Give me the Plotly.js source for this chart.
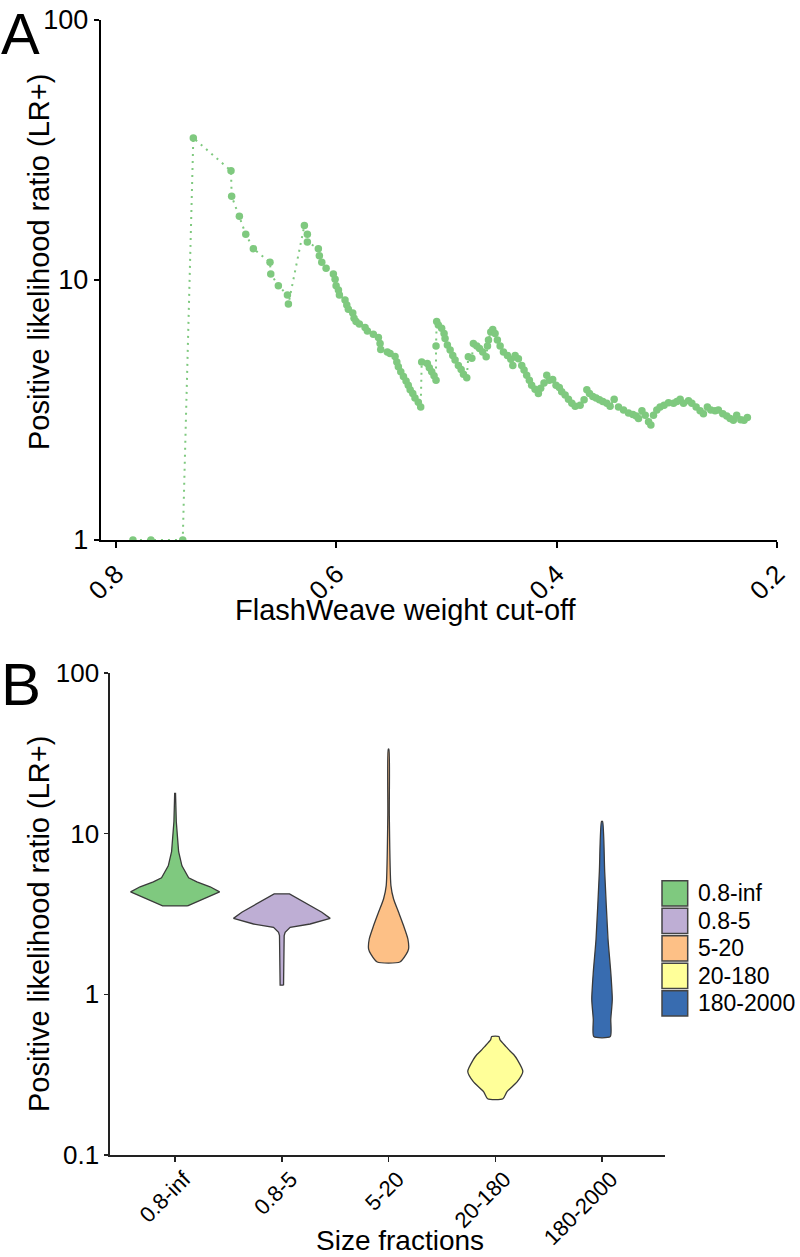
<!DOCTYPE html>
<html>
<head>
<meta charset="utf-8">
<script src="https://cdn.plot.ly/plotly-3.0.1.min.js"></script>
<style>html,body{margin:0;padding:0;background:#fff;}#chart{width:800px;height:1257px;}</style>
</head>
<body>
<div id="chart"></div>
<script>
// ---------- Panel A data: FlashWeave weight cut-off vs LR+ ----------
const cutoff = [0.7846,0.7683,0.7394,0.7298,0.6956,0.6950,0.6880,0.6822,0.6753,0.6602,
0.6595,0.6526,0.6444,0.6435,0.6290,0.6263,0.6263,0.6163,0.6154,0.6132,
0.6093,0.6027,0.6011,0.6002,0.5981,0.5972,0.5921,0.5905,0.5891,0.5851,
0.5839,0.5821,0.5791,0.5739,0.5718,0.5664,0.5618,0.5603,0.5597,0.5537,
0.5512,0.5467,0.5451,0.5437,0.5415,0.5391,0.5367,0.5347,0.5330,0.5306,
0.5286,0.5256,0.5234,0.5225,0.5174,0.5156,0.5134,0.5113,0.5095,0.5095,
0.5089,0.5074,0.5044,0.5022,0.5013,0.4992,0.4967,0.4943,0.4922,0.4892,
0.4867,0.4846,0.4816,0.4802,0.4770,0.4756,0.4725,0.4700,0.4671,0.4640,
0.4628,0.4619,0.4598,0.4580,0.4559,0.4538,0.4513,0.4483,0.4447,0.4416,
0.4398,0.4377,0.4347,0.4317,0.4296,0.4272,0.4248,0.4227,0.4196,0.4166,
0.4145,0.4115,0.4090,0.4067,0.4036,0.4006,0.3976,0.3954,0.3923,0.3893,
0.3862,0.3832,0.3787,0.3751,0.3726,0.3702,0.3672,0.3642,0.3612,0.3581,
0.3545,0.3515,0.3478,0.3439,0.3393,0.3348,0.3308,0.3278,0.3257,0.3226,
0.3196,0.3166,0.3145,0.3121,0.3091,0.3061,0.3025,0.2985,0.2939,0.2909,
0.2879,0.2849,0.2803,0.2773,0.2734,0.2698,0.2668,0.2632,0.2601,0.2562,
0.2532,0.2492,0.2456,0.2426,0.2396,0.2366,0.2329,0.2299,0.2269];
const lrPlus = [1,1,1,35.2,26.3,21.0,17.6,15.0,13.2,11.7,
10.55,9.51,8.76,8.08,16.2,15.0,14.0,13.2,12.4,11.7,
11.1,10.55,10.06,9.5,9.15,8.75,8.38,8.02,7.72,7.47,
7.13,6.92,6.78,6.57,6.37,6.18,6.01,5.70,5.40,5.28,
5.21,5.08,4.84,4.64,4.44,4.25,4.09,3.94,3.78,3.66,
3.52,3.39,3.25,4.84,4.77,4.60,4.44,4.28,4.12,5.57,
6.92,6.72,6.52,6.23,5.96,5.62,5.38,5.12,4.92,4.69,
4.53,4.34,4.21,5.07,5.00,5.70,5.57,5.45,5.28,5.07,
5.57,5.88,6.31,6.45,6.23,5.88,5.57,5.28,5.12,4.96,
4.69,5.12,4.98,4.69,4.51,4.30,4.12,3.94,3.80,3.66,
3.83,4.02,4.30,4.12,4.14,3.94,3.86,3.72,3.61,3.48,
3.36,3.27,3.30,3.46,3.78,3.66,3.56,3.52,3.46,3.41,
3.36,3.27,3.48,3.25,3.16,3.08,3.04,3.00,2.93,3.14,
3.02,2.85,2.77,3.02,3.16,3.25,3.30,3.37,3.36,3.41,
3.48,3.36,3.43,3.36,3.25,3.14,3.06,3.25,3.16,3.14,
3.16,3.06,3.00,2.93,2.89,3.02,2.90,2.89,2.96];
const cutoffTicks = [0.8, 0.6, 0.4, 0.2];
const cutoffTickText = ['0.8', '0.6', '0.4', '0.2'];
const lrTicksA = [1, 10, 100];
const lrTickTextA = ['1', '10', '100'];

// ---------- Panel B data: violin profiles per size fraction ----------
const sizeFractions = ['0.8-inf', '0.8-5', '5-20', '20-180', '180-2000'];
const fractionColors = ['#7fc97f', '#beaed4', '#fdc086', '#ffff99', '#386cb0'];
// LR+ levels (bottom to top) and violin half-widths (category units) at those levels
const lr_08inf  = [3.55, 3.92, 4.34, 4.67, 5.01, 5.31, 6.31, 7.72, 11.9, 17.8];
const hw_08inf  = [0.117, 0.267, 0.417, 0.328, 0.204, 0.127, 0.064, 0.033, 0.011, 0.004];
const lr_085    = [1.14, 1.66, 2.32, 2.43, 2.61, 2.74, 2.97, 3.24, 3.65, 4.22];
const hw_085    = [0.016, 0.019, 0.022, 0.031, 0.078, 0.265, 0.453, 0.375, 0.234, 0.072];
const lr_520    = [1.59, 1.78, 1.91, 2.21, 2.67, 3.24, 3.92, 4.75, 13.0, 33.6];
const hw_520    = [0.106, 0.166, 0.187, 0.181, 0.141, 0.094, 0.047, 0.022, 0.007, 0.003];
const lr_20180  = [0.224, 0.248, 0.286, 0.331, 0.392, 0.422, 0.453, 0.473, 0.523, 0.546];
const hw_20180  = [0.072, 0.110, 0.206, 0.258, 0.206, 0.172, 0.125, 0.100, 0.043, 0.034];
const lr_1802000 = [0.546, 0.70, 0.93, 1.37, 2.21, 5.79, 11.9];
const hw_1802000 = [0.077, 0.082, 0.096, 0.082, 0.056, 0.025, 0.005];
const lrTicksB = [0.1, 1, 10, 100];
const lrTickTextB = ['0.1', '1', '10', '100'];

const profiles = [
  [lr_08inf, hw_08inf], [lr_085, hw_085], [lr_520, hw_520],
  [lr_20180, hw_20180], [lr_1802000, hw_1802000]
];
const smoothProfile = [false, false, true, true, true];

const FONT = 'Liberation Sans, Arial, Helvetica, sans-serif';
const W = 800, H = 1257;
const px = v => v / W;
const py = v => 1 - v / H;

const traces = [];
traces.push({
  type: 'scatter', mode: 'lines+markers', x: cutoff, y: lrPlus,
  xaxis: 'x', yaxis: 'y',
  line: {color: '#7fc97f', width: 2, dash: '2px,5px'},
  marker: {color: '#7fc97f', size: 7.5},
  hoverinfo: 'x+y', showlegend: false
});

profiles.forEach((p, i) => {
  const lv = p[0], hw = p[1];
  const xs = [], ys = [];
  for (let k = 0; k < lv.length; k++) { xs.push(i + hw[k]); ys.push(lv[k]); }
  for (let k = lv.length - 1; k >= 0; k--) { xs.push(i - hw[k]); ys.push(lv[k]); }
  xs.push(i + hw[0]); ys.push(lv[0]);
  traces.push({
    type: 'scatter', mode: 'lines', x: xs, y: ys, xaxis: 'x2', yaxis: 'y2',
    fill: 'toself', fillcolor: fractionColors[i],
    line: smoothProfile[i] ? {color: '#3a3a3a', width: 1.3, shape: 'spline', smoothing: 0.6}
                           : {color: '#3a3a3a', width: 1.3},
    name: sizeFractions[i], showlegend: false, hoverinfo: 'name'
  });
});

// manual legend
const shapes = [];
const annotations = [];
sizeFractions.forEach((name, i) => {
  const top = 880.7 + i * 27.5;
  shapes.push({
    type: 'rect', xref: 'paper', yref: 'paper',
    x0: px(662), x1: px(687.7), y0: py(top), y1: py(top + 25.3),
    fillcolor: fractionColors[i], line: {color: '#444', width: 1.5}
  });
  annotations.push({
    xref: 'paper', yref: 'paper', x: px(696), y: py(top + 12.6),
    xanchor: 'left', yanchor: 'middle', showarrow: false, text: name,
    font: {family: FONT, size: 23, color: '#000'}
  });
});

annotations.push(
  {xref: 'paper', yref: 'paper', x: 0, y: 1, xanchor: 'left', yanchor: 'top',
   showarrow: false, text: 'A', borderpad: 0, font: {family: FONT, size: 58, color: '#000'}},
  {xref: 'paper', yref: 'paper', x: 0, y: py(684), xanchor: 'left', yanchor: 'middle',
   showarrow: false, text: 'B', borderpad: 0, font: {family: FONT, size: 60, color: '#000'}},
  {xref: 'paper', yref: 'paper', x: px(39), y: py(262), xanchor: 'center', yanchor: 'middle',
   textangle: -90, showarrow: false, text: 'Positive likelihood ratio (LR+)',
   font: {family: FONT, size: 29, color: '#000'}},
  {xref: 'paper', yref: 'paper', x: px(39), y: py(924), xanchor: 'center', yanchor: 'middle',
   textangle: -90, showarrow: false, text: 'Positive likelihood ratio (LR+)',
   font: {family: FONT, size: 29, color: '#000'}},
  {xref: 'paper', yref: 'paper', x: px(406), y: py(610), xanchor: 'center', yanchor: 'middle',
   showarrow: false, text: 'FlashWeave weight cut-off',
   font: {family: FONT, size: 29, color: '#000'}},
  {xref: 'paper', yref: 'paper', x: px(400), y: 0, xanchor: 'center', yanchor: 'bottom',
   showarrow: false, text: 'Size fractions', borderpad: 0,
   font: {family: FONT, size: 28, color: '#000'}}
);

const layout = {
  width: W, height: H,
  margin: {l: 0, r: 0, t: 0, b: 0, pad: 0},
  paper_bgcolor: '#fff', plot_bgcolor: 'rgba(0,0,0,0)',
  showlegend: false,
  font: {family: FONT, color: '#000'},
  xaxis: {
    domain: [px(101), px(777)], anchor: 'y', range: [0.8136, 0.2],
    tickmode: 'array', tickvals: cutoffTicks, ticktext: cutoffTickText, tickangle: -45,
    ticks: 'outside', ticklen: 6, tickwidth: 2, tickcolor: '#000',
    showline: true, linewidth: 2.3, linecolor: '#000', showgrid: false, zeroline: false,
    tickfont: {family: FONT, size: 26, color: '#000'}
  },
  yaxis: {
    domain: [py(540), py(20)], anchor: 'x', type: 'log', range: [0, 2],
    tickmode: 'array', tickvals: lrTicksA, ticktext: lrTickTextA,
    ticks: 'outside', ticklen: 5, tickwidth: 2, tickcolor: '#000',
    showline: true, linewidth: 2.3, linecolor: '#000', showgrid: false, zeroline: false,
    tickfont: {family: FONT, size: 27, color: '#000'}
  },
  xaxis2: {
    domain: [px(110), px(665)], anchor: 'y2', range: [-0.61, 4.59],
    tickmode: 'array', tickvals: [0, 1, 2, 3, 4], ticktext: sizeFractions, tickangle: -45,
    ticks: 'outside', ticklen: 5, tickwidth: 1.5, tickcolor: '#222',
    showline: true, linewidth: 1.6, linecolor: '#222', showgrid: false, zeroline: false,
    ticklabelshift: 9, ticklabelstandoff: -4,
    tickfont: {family: FONT, size: 22, color: '#000'}
  },
  yaxis2: {
    domain: [py(1155), py(673)], anchor: 'x2', type: 'log', range: [-1, 2],
    tickmode: 'array', tickvals: lrTicksB, ticktext: lrTickTextB,
    ticks: 'outside', ticklen: 4, tickwidth: 1.5, tickcolor: '#222',
    showline: true, linewidth: 1.6, linecolor: '#222', showgrid: false, zeroline: false,
    tickfont: {family: FONT, size: 26, color: '#000'}
  },
  shapes: shapes,
  annotations: annotations
};

Plotly.newPlot('chart', traces, layout, {displayModeBar: false, staticPlot: true});
</script>
</body>
</html>
